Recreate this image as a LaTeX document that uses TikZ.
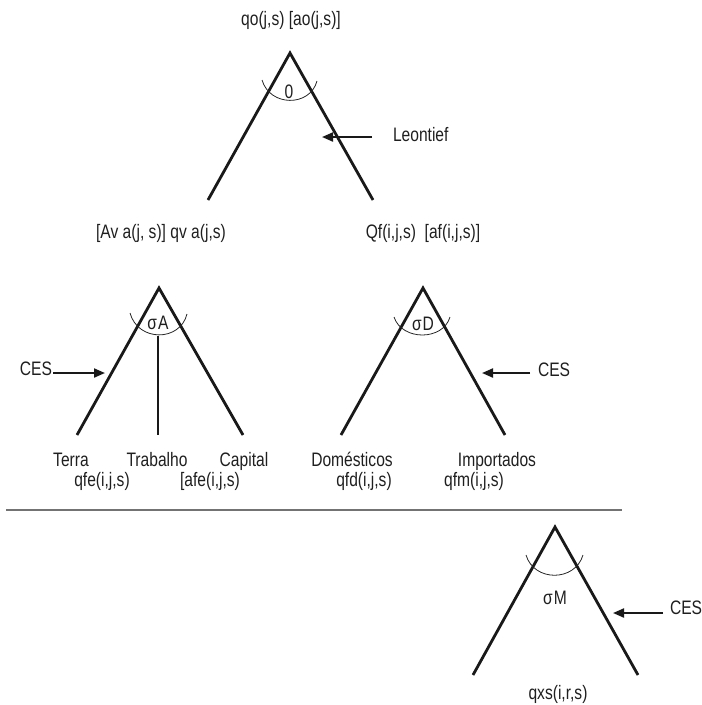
\documentclass[tikz,border=0pt]{standalone}
\usepackage{fontspec}
\setmainfont[FakeStretch=0.8]{Liberation Sans}
\usetikzlibrary{arrows.meta}
\begin{document}
\begin{tikzpicture}[x=1pt,y=-1pt,
  every node/.style={inner sep=0pt,outer sep=0pt,font=\fontsize{19.5}{22}\selectfont,text=black!88},
  tri/.style={line width=2.8pt,line join=miter,draw=black!90},
  ang/.style={line width=0.8pt,draw=black!85},
  stem/.style={line width=1.8pt,draw=black!90},
  arr/.style={line width=2pt,draw=black!90,-{Triangle[length=11pt,width=9pt]}},
  sep/.style={line width=1.4pt,draw=black!55},
  lbl/.style={anchor=base}]
\useasboundingbox (0,0) rectangle (702,705);

% ---------- top nest (Leontief)
\coordinate (oL) at (208,200); \coordinate (oT) at (290,53); \coordinate (oR) at (373,200);
\draw[tri] (oL) -- (oT) -- (oR);
\draw[ang] (262,80) .. controls (270,107) and (310,107) .. (317,81);
\node[lbl] (qo) at (291,25) {qo(j,s) [ao(j,s)]};
\node[lbl] (zero) at (289,98) {0};
\node[anchor=base west] (leon) at (393,141) {Leontief};
\coordinate (leonA) at (372,137); \coordinate (leonT) at (322,137);
\draw[arr] (leonA) -- (leonT);
\node[lbl] (va) at (161,238) {[Av a(j, s)] qv a(j,s)};
\node[lbl] (qf) at (423,238) {Qf(i,j,s)\ \ [af(i,j,s)]};

% ---------- value added nest
\coordinate (aL) at (77,435); \coordinate (aT) at (159,288); \coordinate (aR) at (243,435);
\draw[tri] (aL) -- (aT) -- (aR);
\draw[ang] (130,313) .. controls (138,342) and (180,342) .. (187,314);
\coordinate (stemTop) at (158,336); \coordinate (stemBot) at (158,435);
\draw[stem] (stemTop) -- (stemBot);
\node[lbl] (sA) at (158,329) {σ\kern1ptA};
\node[anchor=base east] (cesA) at (52,375) {CES};
\coordinate (cesAs) at (53,373); \coordinate (cesAt) at (105,373);
\draw[arr] (cesAs) -- (cesAt);
\node[lbl] (terra) at (71,466) {Terra};
\node[lbl] (trab) at (157,466) {Trabalho};
\node[lbl] (cap) at (244,466) {Capital};
\node[lbl] (qfe) at (102,486) {qfe(i,j,s)};
\node[lbl] (afe) at (210,486) {[afe(i,j,s)};

% ---------- domestic/imported nest
\coordinate (dL) at (341,435); \coordinate (dT) at (423,288); \coordinate (dR) at (505,435);
\draw[tri] (dL) -- (dT) -- (dR);
\draw[ang] (394,317) .. controls (402,341) and (443,341) .. (450,317);
\node[lbl] (sD) at (423,330) {σ\kern1ptD};
\node[anchor=base west] (cesD) at (538,376) {CES};
\coordinate (cesDs) at (530,373); \coordinate (cesDt) at (482,373);
\draw[arr] (cesDs) -- (cesDt);
\node[lbl] (dom) at (352,466) {Domésticos};
\node[lbl] (imp) at (497,466) {Importados};
\node[lbl] (qfd) at (364,486) {qfd(i,j,s)};
\node[lbl] (qfm) at (474,486) {qfm(i,j,s)};

% ---------- separator
\coordinate (sepL) at (6,510); \coordinate (sepR) at (622,510);
\draw[sep] (sepL) -- (sepR);

% ---------- import source nest
\coordinate (mL) at (473,675); \coordinate (mT) at (555,527); \coordinate (mR) at (638,675);
\draw[tri] (mL) -- (mT) -- (mR);
\draw[ang] (526,555) .. controls (534,582) and (575,582) .. (583,555);
\node[lbl] (sM) at (555,604) {σ\kern1ptM};
\node[anchor=base west] (cesM) at (670,614) {CES};
\coordinate (cesMs) at (663,613); \coordinate (cesMt) at (613,613);
\draw[arr] (cesMs) -- (cesMt);
\node[lbl] (qxs) at (558,699) {qxs(i,r,s)};
\end{tikzpicture}
\end{document}
